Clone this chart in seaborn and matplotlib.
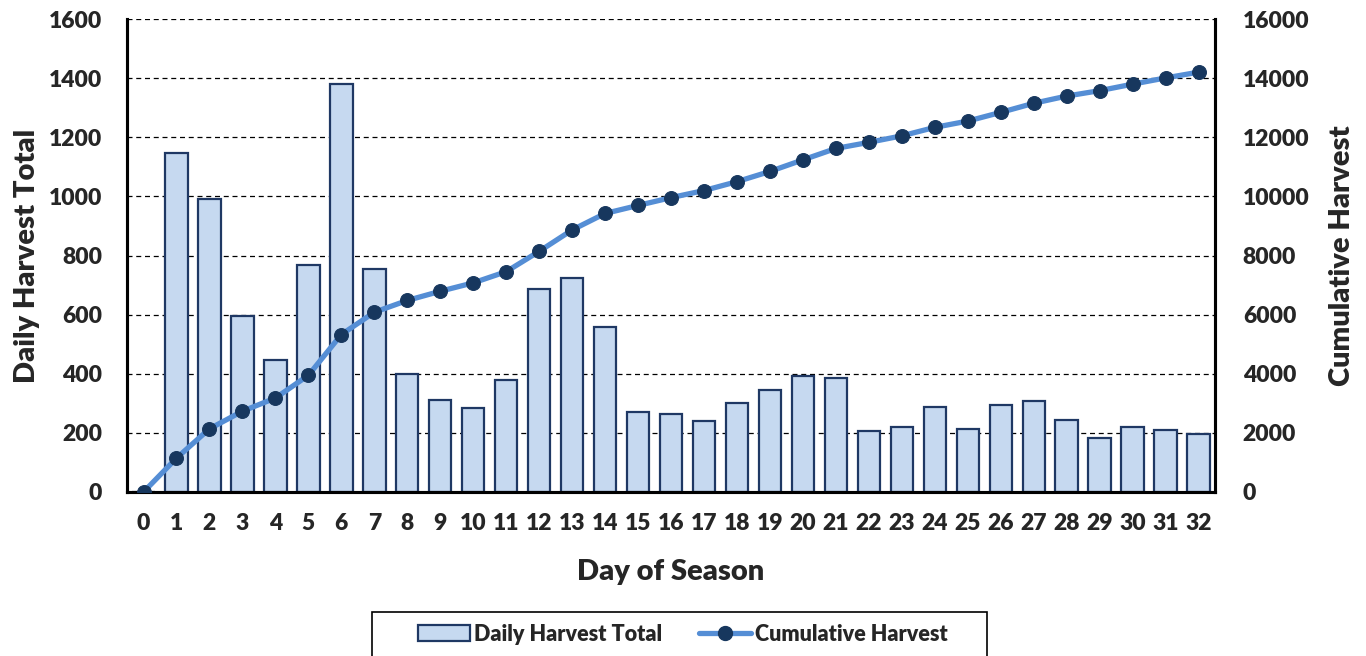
import matplotlib
matplotlib.use("Agg")
import matplotlib.pyplot as plt
import seaborn as sns
import pandas as pd
from matplotlib.patches import Patch, Rectangle
from matplotlib.lines import Line2D

days = list(range(33))
daily_harvest = [0, 1147, 991, 595, 446, 768, 1380, 754, 399, 311, 284, 379, 687,
                 724, 558, 271, 264, 240, 301, 345, 392, 386, 206, 220, 287, 213,
                 294, 308, 244, 183, 220, 210, 196]
cumulative_harvest = [0, 1147, 2138, 2733, 3179, 3947, 5327, 6081, 6480, 6791, 7075,
                      7454, 8141, 8865, 9423, 9694, 9958, 10198, 10499, 10844, 11236,
                      11622, 11828, 12048, 12335, 12548, 12842, 13150, 13394, 13577,
                      13797, 14007, 14203]

sns.set_style("white")
plt.rcParams['font.family'] = ['Lato', 'DejaVu Sans']
plt.rcParams['font.weight'] = 'bold'

df = pd.DataFrame({"day": days, "daily": daily_harvest, "cum": cumulative_harvest})

fig = plt.figure(figsize=(13.66, 6.56), dpi=100)
ax = fig.add_axes([0.093, 0.25, 0.7965, 0.721])

bar_fill = "#C6D9F0"
bar_edge = "#1F3864"
line_col = "#558ED5"
mark_col = "#17375E"

sns.barplot(data=df, x="day", y="daily", ax=ax, color=bar_fill, width=0.68,
            edgecolor=bar_edge, linewidth=1.6, saturation=1)
ax.set_xlim(-0.5, 32.5)
ax.set_ylim(0, 1600)
ax.set_yticks(range(0, 1601, 200))
ax.yaxis.grid(True, linestyle=(0, (4, 3)), color="black", linewidth=0.9)
ax.set_axisbelow(True)
ax.set_xlabel("Day of Season", fontsize=21, fontweight="heavy", labelpad=18)
ax.set_ylabel("Daily Harvest Total", fontsize=21, fontweight="heavy", labelpad=6)
ax.tick_params(axis="x", labelsize=16.5, length=0, pad=15)
ax.tick_params(axis="y", labelsize=16.5, length=0, pad=18)
for lab in ax.get_xticklabels() + ax.get_yticklabels():
    lab.set_fontweight("heavy")

ax2 = ax.twinx()
sns.lineplot(data=df, x="day", y="cum", ax=ax2, color=line_col, linewidth=3.8,
             marker="o", markersize=10, markerfacecolor=mark_col,
             markeredgecolor=mark_col, zorder=5)
ax2.set_ylim(0, 16000)
ax2.set_yticks(range(0, 16001, 2000))
ax2.set_xlim(-0.5, 32.5)
ax2.set_ylabel("Cumulative Harvest", fontsize=21, fontweight="heavy", labelpad=14)
ax2.tick_params(axis="y", labelsize=16.5, length=0, pad=20)
for lab in ax2.get_yticklabels():
    lab.set_fontweight("heavy")
ax2.grid(False)

for a in (ax, ax2):
    a.spines["top"].set_visible(False)
    for s in ("left", "right", "bottom"):
        a.spines[s].set_color("black")
        a.spines[s].set_linewidth(2.2)

# legend box frame
fig.patches.append(Rectangle((0.2723, -0.02), 0.4502, 0.0871, transform=fig.transFigure,
                             facecolor="white", edgecolor="black", linewidth=1.2,
                             figure=fig, zorder=0))

handles = [Patch(facecolor=bar_fill, edgecolor=bar_edge, linewidth=1.6, label="Daily Harvest Total"),
           Line2D([0], [0], color=line_col, linewidth=3.8, marker="o", markersize=10,
                  markerfacecolor=mark_col, markeredgecolor=mark_col, label="Cumulative Harvest")]
leg = fig.legend(handles=handles, loc="center", bbox_to_anchor=(0.5, 0.0335),
                 ncol=2, frameon=False, handlelength=2.4,
                 columnspacing=1.7, borderpad=0.3, handletextpad=0.2,
                 prop={"weight": "heavy", "size": 15.5})

fig.savefig("out.png", dpi=100)
